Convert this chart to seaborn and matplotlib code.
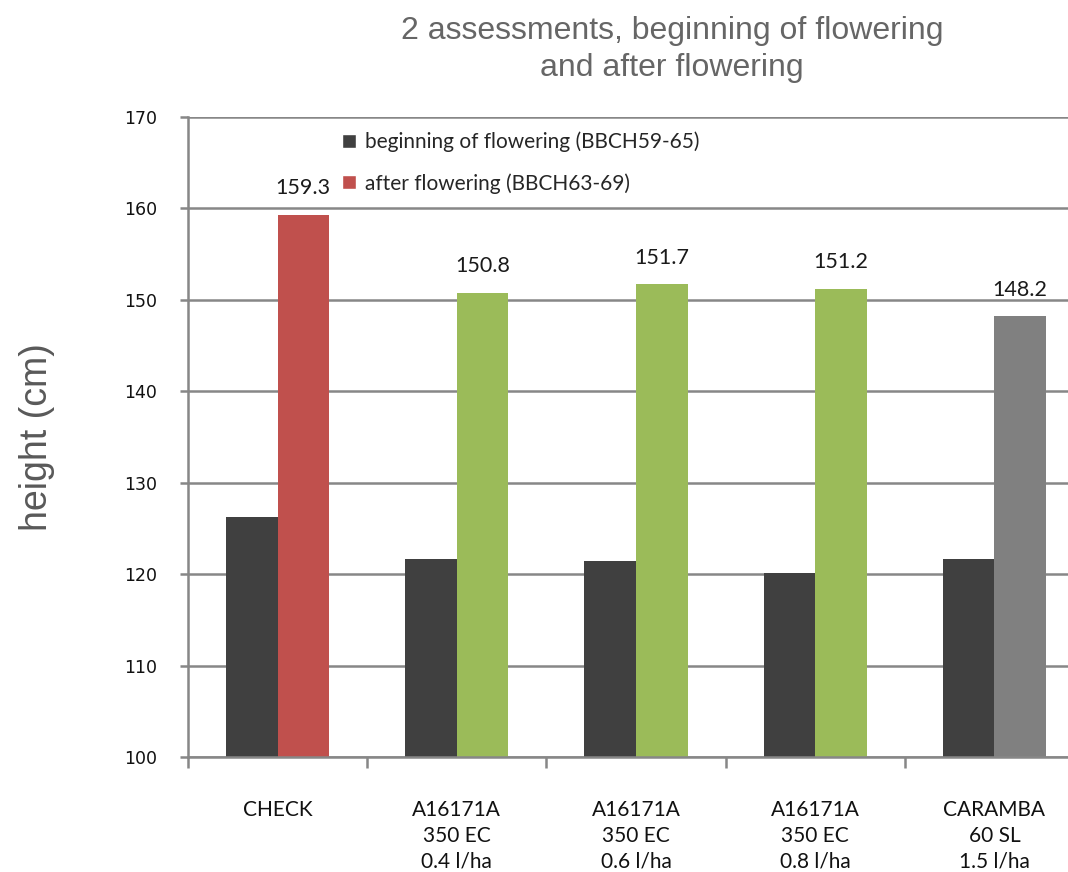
import matplotlib
matplotlib.use("Agg")
import matplotlib.pyplot as plt
from matplotlib.patches import Patch
import seaborn as sns
import pandas as pd
import numpy as np

# data
treatments = [
    "CHECK",
    "A16171A\n350 EC\n0.4 l/ha",
    "A16171A\n350 EC\n0.6 l/ha",
    "A16171A\n350 EC\n0.8 l/ha",
    "CARAMBA\n60 SL\n1.5 l/ha",
]
stages = ["beginning of flowering (BBCH59-65)", "after flowering (BBCH63-69)"]
height_begin = [126.2, 121.7, 121.4, 120.1, 121.7]
height_after = [159.3, 150.8, 151.7, 151.2, 148.2]
after_colors = ["#C0504D", "#9BBB59", "#9BBB59", "#9BBB59", "#808080"]
dark = "#404040"
grid_grey = "#878787"

df = pd.DataFrame({
    "treatment": treatments * 2,
    "stage": [stages[0]] * len(treatments) + [stages[1]] * len(treatments),
    "height": height_begin + height_after,
})

sns.set_theme(style="white")
plt.rcParams["font.family"] = ["Lato", "DejaVu Sans"]

fig = plt.figure(figsize=(10.68, 8.72), dpi=100)
ax = fig.add_axes([0.176, 0.1319, 0.839, 0.7339])

sns.barplot(data=df, x="treatment", y="height", hue="stage",
            order=treatments, hue_order=stages,
            palette={stages[0]: dark, stages[1]: after_colors[0]},
            width=0.575, gap=0, linewidth=0, saturation=1, ax=ax)

# second series gets its own colour per treatment
for patch, col in zip(ax.containers[1], after_colors):
    patch.set_facecolor(col)

ax.bar_label(ax.containers[1], fmt="%.1f", padding=12, fontsize=15.5,
             color="#1a1a1a", family=["Lato", "DejaVu Sans"])

ax.set_ylim(100, 170)
ax.set_xlim(-0.5, 4.5)
ax.set_yticks(np.arange(100, 171, 10))
ax.yaxis.grid(True, color=grid_grey, linewidth=1.8)
ax.set_axisbelow(True)

for side in ["top", "right"]:
    ax.spines[side].set_visible(False)
for side in ["left", "bottom"]:
    ax.spines[side].set_color(grid_grey)
    ax.spines[side].set_linewidth(1.8)

ax.set_xticks(np.arange(-0.5, 5, 1), minor=True)
ax.tick_params(axis="x", which="major", length=0, pad=31, labelsize=15,
               labelcolor="#111111")
ax.tick_params(axis="x", which="minor", length=8, width=1.8, color=grid_grey,
               direction="out", bottom=True)
ax.tick_params(axis="y", length=6, width=1.8, color=grid_grey, direction="out",
               left=True, pad=16, labelsize=12.5, labelcolor="#111111")
for lbl in ax.get_yticklabels():
    lbl.set_family("DejaVu Sans")
for lbl in ax.get_xticklabels():
    lbl.set_linespacing(1.36)

ax.set_xlabel("")
ax.set_ylabel("height (cm)", fontsize=27, color="#595959",
              family=["Liberation Sans", "DejaVu Sans"], labelpad=50)

handles = [Patch(facecolor=dark), Patch(facecolor=after_colors[0])]
ax.legend(handles, stages, loc="upper left", bbox_to_anchor=(0.172, 0.977),
          frameon=False, fontsize=15, handlelength=0.65, handleheight=0.65,
          handletextpad=0.45, labelspacing=1.0, borderpad=0, borderaxespad=0)

fig.text(0.629, 0.982, "2 assessments, beginning of flowering\nand after flowering",
         ha="center", va="top", fontsize=23, color="#666666",
         family=["Liberation Sans", "DejaVu Sans"], linespacing=1.3)

fig.savefig("out.png", dpi=100)
plt.close(fig)
